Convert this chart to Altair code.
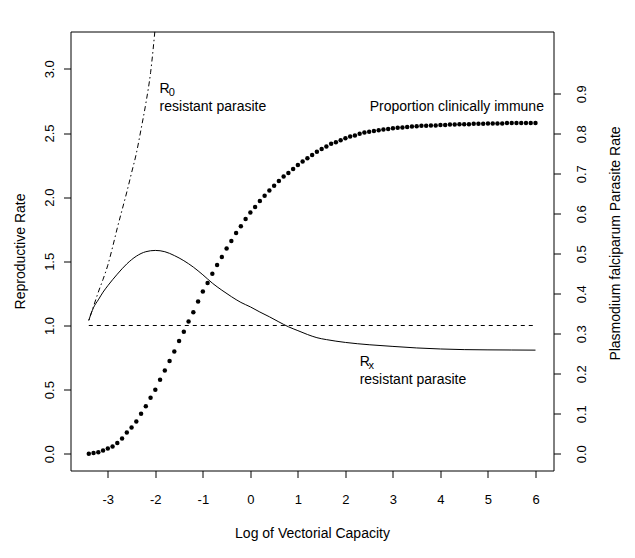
import altair as alt
import pandas as pd

FONT = "Liberation Sans"

# ---- data ----
immune_x = [-3.4, -3.3, -3.2, -3.1, -3.0, -2.9, -2.8, -2.7, -2.6, -2.5,
            -2.4, -2.3, -2.2, -2.1, -2.0, -1.9, -1.8, -1.7, -1.6, -1.5,
            -1.4, -1.3, -1.2, -1.1, -1.0, -0.9, -0.8, -0.7, -0.6, -0.5,
            -0.4, -0.3, -0.2, -0.1, 0.0, 0.1, 0.2, 0.3, 0.4, 0.5,
            0.6, 0.7, 0.8, 0.9, 1.0, 1.1, 1.2, 1.3, 1.4, 1.5,
            1.6, 1.7, 1.8, 1.9, 2.0, 2.1, 2.2, 2.3, 2.4, 2.5,
            2.6, 2.7, 2.8, 2.9, 3.0, 3.1, 3.2, 3.3, 3.4, 3.5,
            3.6, 3.7, 3.8, 3.9, 4.0, 4.1, 4.2, 4.3, 4.4, 4.5,
            4.6, 4.7, 4.8, 4.9, 5.0, 5.1, 5.2, 5.3, 5.4, 5.5,
            5.6, 5.7, 5.8, 5.9, 6.0]
immune_y = [0.000, 0.002, 0.004, 0.008, 0.013, 0.018, 0.027, 0.038, 0.053, 0.066,
            0.081, 0.100, 0.119, 0.140, 0.160, 0.185, 0.208, 0.232, 0.256, 0.282,
            0.305, 0.331, 0.354, 0.381, 0.406, 0.427, 0.450, 0.472, 0.492, 0.513,
            0.532, 0.552, 0.569, 0.587, 0.603, 0.617, 0.632, 0.645, 0.658, 0.670,
            0.682, 0.693, 0.702, 0.712, 0.722, 0.731, 0.739, 0.747, 0.755, 0.762,
            0.768, 0.775, 0.779, 0.784, 0.789, 0.793, 0.796, 0.800, 0.803, 0.805,
            0.807, 0.809, 0.811, 0.812, 0.814, 0.815, 0.816, 0.817, 0.818, 0.819,
            0.820, 0.820, 0.821, 0.821, 0.822, 0.822, 0.823, 0.823, 0.824, 0.824,
            0.824, 0.825, 0.825, 0.825, 0.826, 0.826, 0.826, 0.826, 0.827, 0.827,
            0.827, 0.827, 0.827, 0.827, 0.827]

rx_x = [-3.4, -3.3, -3.2, -3.1, -3.0, -2.8, -2.6, -2.4, -2.2, -2.0, -1.8, -1.6,
        -1.4, -1.2, -1.0, -0.8, -0.6, -0.4, -0.2, 0.0, 0.2, 0.4, 0.6, 0.8, 1.0,
        1.2, 1.4, 1.6, 1.8, 2.0, 2.5, 3.0, 3.5, 4.0, 4.5, 5.0, 5.5, 6.0]
rx_y = [1.04, 1.14, 1.20, 1.26, 1.31, 1.40, 1.48, 1.54, 1.575, 1.585, 1.575, 1.545,
        1.505, 1.455, 1.395, 1.33, 1.275, 1.225, 1.18, 1.145, 1.105, 1.068, 1.028, 0.99, 0.96,
        0.93, 0.905, 0.89, 0.878, 0.868, 0.85, 0.837, 0.825, 0.817, 0.812, 0.81, 0.809, 0.808]

r0_x = [-3.4, -3.3, -3.2, -3.1, -3.0, -2.9, -2.8, -2.7, -2.6, -2.5, -2.4, -2.3, -2.2, -2.1, -2.0]
r0_y = [1.04, 1.15, 1.26, 1.36, 1.47, 1.61, 1.76, 1.90, 2.04, 2.19, 2.34, 2.53, 2.73, 2.97, 3.33]

ref_x = [-3.4, 6.0]
ref_y = [1.0, 1.0]

x_ticks = [-3, -2, -1, 0, 1, 2, 3, 4, 5, 6]
left_ticks = [0.0, 0.5, 1.0, 1.5, 2.0, 2.5, 3.0]
right_ticks = [0.0, 0.1, 0.2, 0.3, 0.4, 0.5, 0.6, 0.7, 0.8, 0.9]

main_text = ["R", "resistant parasite", "Proportion clinically immune", "R", "resistant parasite"]
main_x = [-1.91, -1.91, 2.51, 2.30, 2.30]
main_y = [2.808, 2.672, 2.668, 0.688, 0.544]

sub_text = ["0", "x"]
sub_x = [-1.72, 2.485]
sub_y = [2.787, 0.663]

# ---- tables ----
immune = pd.DataFrame({"x": immune_x, "y": immune_y})
rx = pd.DataFrame({"x": rx_x, "y": rx_y})
r0 = pd.DataFrame({"x": r0_x, "y": r0_y})
ref = pd.DataFrame({"x": ref_x, "y": ref_y})
mains = pd.DataFrame({"t": main_text, "x": main_x, "y": main_y})
subs = pd.DataFrame({"t": sub_text, "x": sub_x, "y": sub_y})

W, H = 483, 439
xs = alt.Scale(domain=[-3.785, 6.379], nice=False, zero=False)
yl = alt.Scale(domain=[-0.130, 3.291], nice=False, zero=False)
yr = alt.Scale(domain=[-0.04175, 1.05575], nice=False, zero=False)

common = dict(grid=False, domain=False, ticks=True, tickSize=7, tickColor="black",
              tickWidth=1, labelColor="black", labelFont=FONT, labelFontSize=13,
              titleFont=FONT, titleFontSize=14, titleFontWeight="normal",
              titleColor="black", labelOverlap=False, labelFlush=False)

x_axis = alt.Axis(values=x_ticks, labelExpr="toString(datum.value)",
                  labelBaseline="alphabetic", labelPadding=26,
                  title="Log of Vectorial Capacity", titleX=W / 2, titleY=67,
                  titleAlign="center", titleBaseline="alphabetic", titleAngle=0, **common)
yl_axis = alt.Axis(values=left_ticks, format=".1f", orient="left",
                   labelAngle=270, labelAlign="center", labelBaseline="alphabetic",
                   labelPadding=10,
                   title="Reproductive Rate", titleX=-46, titleY=H / 2, titleAngle=270,
                   titleAlign="center", titleBaseline="alphabetic", **common)
yr_axis = alt.Axis(values=right_ticks, format=".1f", orient="right",
                   labelAngle=270, labelAlign="center", labelBaseline="alphabetic",
                   labelPadding=25,
                   title="Plasmodium falciparum Parasite Rate", titleX=66, titleY=H / 2 - 8,
                   titleAngle=270, titleAlign="center", titleBaseline="alphabetic", **common)

X = alt.X("x:Q", scale=xs, axis=x_axis)
YL = alt.Y("y:Q", scale=yl, axis=yl_axis)

ref_line = alt.Chart(ref).mark_line(color="black", strokeWidth=1, strokeDash=[4, 4]).encode(
    x=X, y=YL)
rx_line = alt.Chart(rx).mark_line(color="black", strokeWidth=1, interpolate="monotone").encode(
    x=X, y=YL)
r0_line = alt.Chart(r0).mark_line(color="black", strokeWidth=1, interpolate="monotone",
                                  strokeDash=[1.5, 3, 5, 3], clip=True).encode(x=X, y=YL)
main_labels = alt.Chart(mains).mark_text(align="left", baseline="alphabetic", font=FONT,
                                         fontSize=14, color="black").encode(
    x=X, y=YL, text="t:N")
sub_labels = alt.Chart(subs).mark_text(align="left", baseline="alphabetic", font=FONT,
                                       fontSize=11, color="black").encode(
    x=X, y=YL, text="t:N")
left = alt.layer(ref_line, rx_line, r0_line, main_labels, sub_labels)

dots = alt.Chart(immune).mark_circle(color="black", opacity=1, size=20).encode(
    x=X,
    y=alt.Y("y:Q", scale=yr, axis=yr_axis),
)

chart = alt.layer(left, dots).resolve_scale(y="independent").properties(
    width=W, height=H,
    autosize=alt.AutoSizeParams(type="none"),
    padding={"left": 62.5, "top": 23.5, "right": 73.5, "bottom": 79.5},
    background="white",
).configure_view(stroke="black", strokeWidth=1)

chart.save("out.html", embed_options={"renderer": "svg", "actions": False})
